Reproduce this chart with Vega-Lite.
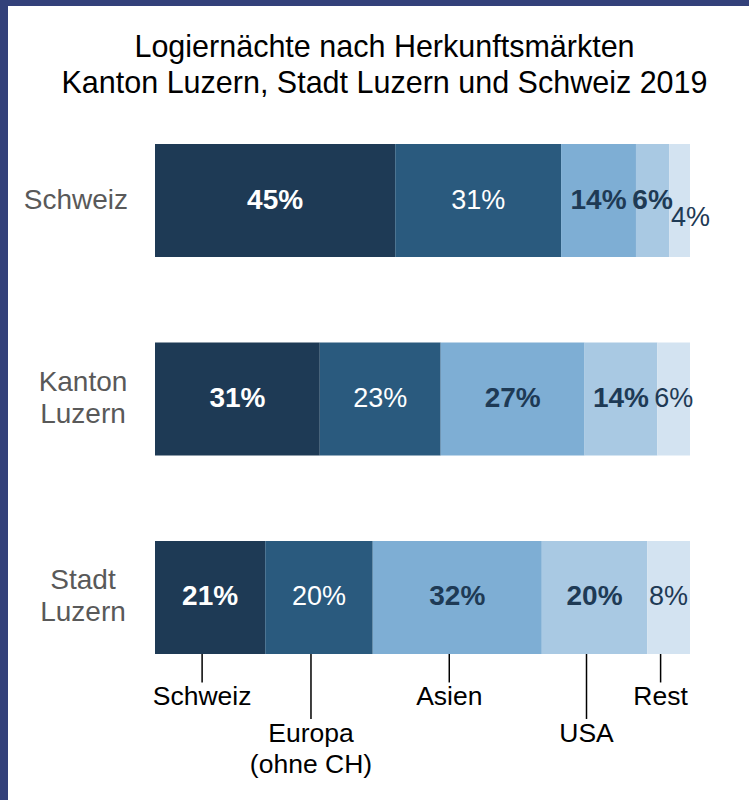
{
  "$schema": "https://vega.github.io/schema/vega-lite/v6.json",
  "background": "#33417a",
  "padding": {"left": 8, "top": 6, "right": 0, "bottom": 0},
  "spacing": 0,
  "bounds": "flush",
  "config": {
    "view": {"fill": "white", "stroke": null},
    "font": "Liberation Sans",
    "text": {"font": "Liberation Sans"}
  },
  "datasets": {
    "titles": [
      {"title": "Logiernächte nach Herkunftsmärkten\nKanton Luzern, Stadt Luzern und Schweiz 2019"}
    ],
    "shares": [
      {"region": "Schweiz", "market": "Schweiz", "order": 1, "value": 44.9},
      {"region": "Schweiz", "market": "Europa (ohne CH)", "order": 2, "value": 31.0},
      {"region": "Schweiz", "market": "Asien", "order": 3, "value": 14.0},
      {"region": "Schweiz", "market": "USA", "order": 4, "value": 6.2},
      {"region": "Schweiz", "market": "Rest", "order": 5, "value": 3.9},
      {"region": "Kanton Luzern", "market": "Schweiz", "order": 1, "value": 30.8},
      {"region": "Kanton Luzern", "market": "Europa (ohne CH)", "order": 2, "value": 22.6},
      {"region": "Kanton Luzern", "market": "Asien", "order": 3, "value": 26.9},
      {"region": "Kanton Luzern", "market": "USA", "order": 4, "value": 13.6},
      {"region": "Kanton Luzern", "market": "Rest", "order": 5, "value": 6.1},
      {"region": "Stadt Luzern", "market": "Schweiz", "order": 1, "value": 20.6},
      {"region": "Stadt Luzern", "market": "Europa (ohne CH)", "order": 2, "value": 20.1},
      {"region": "Stadt Luzern", "market": "Asien", "order": 3, "value": 31.6},
      {"region": "Stadt Luzern", "market": "USA", "order": 4, "value": 19.7},
      {"region": "Stadt Luzern", "market": "Rest", "order": 5, "value": 8.0}
    ],
    "markets": [
      {"market": "Schweiz", "label": "Schweiz", "tier": 1},
      {"market": "Europa (ohne CH)", "label": "Europa\n(ohne CH)", "tier": 2},
      {"market": "Asien", "label": "Asien", "tier": 1},
      {"market": "USA", "label": "USA", "tier": 2},
      {"market": "Rest", "label": "Rest", "tier": 1}
    ]
  },
  "vconcat": [
    {
      "width": 741,
      "height": 138,
      "data": {"name": "titles"},
      "mark": {
        "type": "text",
        "fontSize": 30.5,
        "lineBreak": "\n",
        "lineHeight": 36.5,
        "color": "#000000",
        "align": "center",
        "baseline": "middle",
        "dx": 6,
        "dy": -27.5
      },
      "encoding": {
        "x": {"field": "title", "type": "nominal", "axis": null, "scale": {"paddingOuter": 0, "paddingInner": 0}},
        "text": {"field": "title", "type": "nominal"}
      }
    },
    {
      "width": 741,
      "height": 510,
      "data": {"name": "shares"},
      "transform": [
        {"stack": "value", "groupby": ["region"], "sort": [{"field": "order"}], "as": ["v0", "v1"]},
        {"calculate": "(datum.v0 + datum.v1) / 2", "as": "mid"},
        {"calculate": "format(datum.value, '.0f') + '%'", "as": "pct"}
      ],
      "encoding": {
        "y": {
          "field": "region",
          "type": "nominal",
          "sort": ["Schweiz", "Kanton Luzern", "Stadt Luzern"],
          "scale": {"paddingInner": 0.43, "paddingOuter": 0},
          "axis": null
        }
      },
      "layer": [
        {
          "mark": {"type": "bar"},
          "encoding": {
            "x": {
              "field": "v0",
              "type": "quantitative",
              "scale": {"domain": [-27.477, 111.028], "nice": false, "zero": false},
              "axis": null
            },
            "x2": {"field": "v1"},
            "color": {
              "field": "market",
              "type": "nominal",
              "scale": {
                "domain": ["Schweiz", "Europa (ohne CH)", "Asien", "USA", "Rest"],
                "range": ["#1e3a55", "#2a5a7e", "#7eaed4", "#a9c9e3", "#d3e3f1"]
              },
              "legend": null
            }
          }
        },
        {
          "transform": [{"filter": "datum.market == 'Schweiz' || datum.market == 'Asien' || datum.market == 'USA'"}],
          "mark": {"type": "text", "fontSize": 28, "fontWeight": "bold", "align": "center", "baseline": "middle"},
          "encoding": {
            "x": {"field": "mid", "type": "quantitative"},
            "text": {"field": "pct", "type": "nominal"},
            "color": {
              "condition": {"test": "datum.market == 'Schweiz' || datum.market == 'Europa (ohne CH)'", "value": "#ffffff"},
              "value": "#1e3a55"
            }
          }
        },
        {
          "transform": [{"filter": "(datum.market == 'Europa (ohne CH)' || datum.market == 'Rest') && !(datum.region == 'Schweiz' && datum.market == 'Rest')"}],
          "mark": {"type": "text", "fontSize": 27, "align": "center", "baseline": "middle"},
          "encoding": {
            "x": {"field": "mid", "type": "quantitative"},
            "text": {"field": "pct", "type": "nominal"},
            "color": {
              "condition": {"test": "datum.market == 'Schweiz' || datum.market == 'Europa (ohne CH)'", "value": "#ffffff"},
              "value": "#1e3a55"
            }
          }
        },
        {
          "transform": [{"filter": "datum.region == 'Schweiz' && datum.market == 'Rest'"}],
          "mark": {"type": "text", "fontSize": 27, "align": "center", "baseline": "middle", "dx": 11, "dy": 17, "color": "#1e3a55"},
          "encoding": {
            "x": {"field": "mid", "type": "quantitative"},
            "text": {"field": "pct", "type": "nominal"}
          }
        },
        {
          "transform": [{"filter": "datum.order == 1 && datum.region == 'Schweiz'"}],
          "mark": {"type": "text", "fontSize": 28, "align": "right", "baseline": "middle", "dx": -27, "color": "#595959"},
          "encoding": {
            "x": {"datum": 0, "type": "quantitative"},
            "text": {"field": "region", "type": "nominal"}
          }
        },
        {
          "transform": [{"filter": "datum.order == 1 && datum.region != 'Schweiz'"}],
          "mark": {"type": "text", "fontSize": 28, "align": "center", "baseline": "middle", "lineBreak": " ", "lineHeight": 32, "dx": -72, "dy": -16, "color": "#595959"},
          "encoding": {
            "x": {"datum": 0, "type": "quantitative"},
            "text": {"field": "region", "type": "nominal"}
          }
        }
      ]
    },
    {
      "width": 741,
      "height": 146,
      "data": {"name": "shares"},
      "transform": [
        {"filter": "datum.region == 'Stadt Luzern'"},
        {"stack": "value", "groupby": ["region"], "sort": [{"field": "order"}], "as": ["v0", "v1"]},
        {"calculate": "(datum.v0 + datum.v1) / 2", "as": "mid"},
        {"lookup": "market", "from": {"data": {"name": "markets"}, "key": "market", "fields": ["label", "tier"]}}
      ],
      "encoding": {
        "x": {
          "field": "mid",
          "type": "quantitative",
          "scale": {"domain": [-27.477, 111.028], "nice": false, "zero": false},
          "axis": null
        }
      },
      "layer": [
        {
          "mark": {"type": "rule", "color": "#000000", "strokeWidth": 1.5, "xOffset": -8, "clip": true},
          "encoding": {
            "y": {"field": "tier", "type": "quantitative", "scale": {"domain": [0.22, 4.22], "reverse": true, "nice": false, "zero": false}, "axis": null},
            "y2": {"datum": 0}
          }
        },
        {
          "mark": {"type": "text", "fontSize": 26.5, "align": "center", "baseline": "top", "lineBreak": "\n", "lineHeight": 31, "dy": 2, "xOffset": -8, "color": "#000000"},
          "encoding": {
            "y": {"field": "tier", "type": "quantitative"},
            "text": {"field": "label", "type": "nominal"}
          }
        }
      ]
    }
  ]
}
